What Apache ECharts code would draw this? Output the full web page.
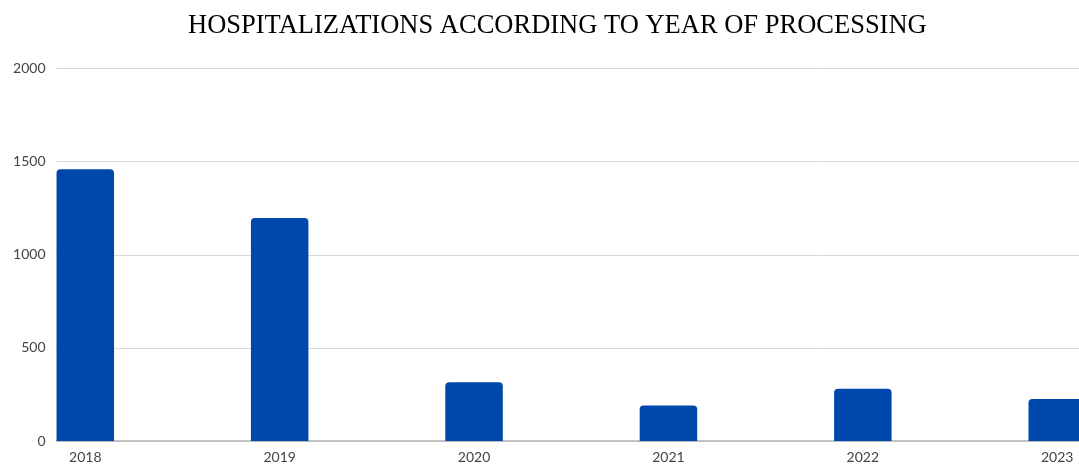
<!DOCTYPE html>
<html>
<head>
<meta charset="utf-8">
<script src="https://cdn.jsdelivr.net/npm/echarts@6/dist/echarts.min.js"></script>
<style>html,body{margin:0;padding:0;background:#fff;}#c{width:1079px;height:464px;}</style>
</head>
<body>
<div id="c"></div>
<script>
const titleText = 'HOSPITALIZATIONS ACCORDING TO YEAR OF PROCESSING';
const years = [2018, 2019, 2020, 2021, 2022, 2023];
const hospitalizations = [1459, 1197, 315, 190, 281, 226];
const yTicks = [0, 500, 1000, 1500, 2000];

const chart = echarts.init(document.getElementById('c'), null, {renderer: 'canvas'});
chart.setOption({
  animation: false,
  backgroundColor: '#ffffff',
  title: {
    text: titleText,
    left: 183,
    top: 8,
    textStyle: {fontFamily: '"Liberation Serif", "Times New Roman", serif', fontWeight: 'normal', fontSize: 26.5, color: '#000'}
  },
  grid: {left: 56.5, right: 0, top: 68.5, bottom: 22.5, containLabel: false},
  xAxis: {
    type: 'value',
    min: 2017.852,
    max: 2023.112,
    splitLine: {show: false},
    axisTick: {show: false},
    axisLine: {show: true, onZero: false, lineStyle: {color: '#b3b3b3', width: 1.5}},
    axisLabel: {
      customValues: years,
      formatter: v => String(v),
      fontFamily: 'Lato, sans-serif', fontSize: 14, color: '#444', margin: 9
    }
  },
  yAxis: {
    type: 'value',
    min: 0, max: 2000, interval: 500,
    axisLine: {show: false},
    axisTick: {show: false},
    splitLine: {lineStyle: {color: '#d9d9d9', width: 1}},
    axisLabel: {
      customValues: yTicks,
      formatter: v => String(v),
      fontFamily: 'Lato, sans-serif', fontSize: 14, color: '#444', margin: 11
    }
  },
  series: [{
    type: 'bar',
    barWidth: 57.5,
    data: years.map((y, i) => [y, hospitalizations[i]]),
    itemStyle: {color: '#0047ab', borderRadius: [4, 4, 0, 0]}
  }]
});
</script>
</body>
</html>
